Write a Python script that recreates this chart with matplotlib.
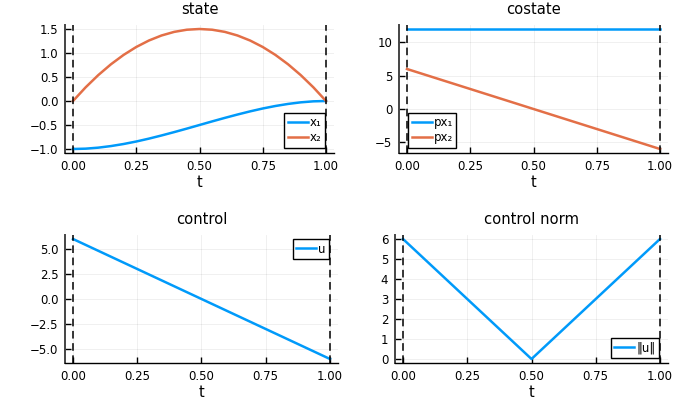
import matplotlib
matplotlib.use("Agg")
import matplotlib.pyplot as plt

# time grid and values
t = [0.0, 0.05, 0.1, 0.15, 0.2, 0.25, 0.3, 0.35, 0.4, 0.45, 0.5,
     0.55, 0.6, 0.65, 0.7, 0.75, 0.8, 0.85, 0.9, 0.95, 1.0]
x1 = [-1.0, -0.993, -0.972, -0.939, -0.896, -0.844, -0.784, -0.718, -0.648, -0.575, -0.5,
      -0.425, -0.352, -0.282, -0.216, -0.156, -0.104, -0.061, -0.028, -0.007, 0.0]
x2 = [0.0, 0.285, 0.54, 0.765, 0.96, 1.125, 1.26, 1.365, 1.44, 1.485, 1.5,
      1.485, 1.44, 1.365, 1.26, 1.125, 0.96, 0.765, 0.54, 0.285, 0.0]
px1 = [12.0] * 21
px2 = [6.0, 5.4, 4.8, 4.2, 3.6, 3.0, 2.4, 1.8, 1.2, 0.6, 0.0,
       -0.6, -1.2, -1.8, -2.4, -3.0, -3.6, -4.2, -4.8, -5.4, -6.0]
u = [6.0, 5.4, 4.8, 4.2, 3.6, 3.0, 2.4, 1.8, 1.2, 0.6, 0.0,
     -0.6, -1.2, -1.8, -2.4, -3.0, -3.6, -4.2, -4.8, -5.4, -6.0]
unorm = [6.0, 5.4, 4.8, 4.2, 3.6, 3.0, 2.4, 1.8, 1.2, 0.6, 0.0,
         0.6, 1.2, 1.8, 2.4, 3.0, 3.6, 4.2, 4.8, 5.4, 6.0]
t0, tf = 0.0, 1.0

blue = "#009AFA"
red = "#E36F47"

W, H = 680, 420
fig = plt.figure(figsize=(6.8, 4.2), dpi=100)

def add_ax(l, r, top, bot):
    return fig.add_axes([l / W, 1 - bot / H, (r - l) / W, (bot - top) / H])

def style(ax, title, ylim, yticks, yfmt):
    ax.set_xlim(-0.03, 1.03)
    ax.set_ylim(*ylim)
    ax.set_xticks([0, 0.25, 0.5, 0.75, 1.0])
    ax.set_xticklabels(["0.00", "0.25", "0.50", "0.75", "1.00"])
    ax.set_yticks(yticks)
    ax.set_yticklabels([yfmt(v).replace("-", "\u2212") for v in yticks])
    ax.grid(True, color="black", alpha=0.07, linewidth=0.6)
    for s in ["top", "right"]:
        ax.spines[s].set_visible(False)
    ax.spines["bottom"].set_linewidth(1.0)
    ax.spines["left"].set_linewidth(1.4)
    ax.spines["left"].set_color("#444444")
    ax.tick_params(direction="in", length=4, width=1, labelsize=8.5)
    ax.tick_params(axis="x", pad=5)
    ax.tick_params(axis="y", pad=5)
    ax.set_title(title, fontsize=10.6, pad=8)
    ax.set_xlabel("t", fontsize=10.5, labelpad=2)
    ax.axvline(t0, color="black", ls=(0, (5, 3)), lw=1.1, zorder=4)
    ax.axvline(tf, color="black", ls=(0, (5, 3)), lw=1.1, zorder=4)

def legend(ax, loc, anchor):
    lg = ax.legend(loc=loc, bbox_to_anchor=(anchor[0] / W, 1 - anchor[1] / H),
                   bbox_transform=fig.transFigure, fontsize=8.5, fancybox=False,
                   edgecolor="black", framealpha=1, handlelength=1.7,
                   handletextpad=0.15, labelspacing=0.2, borderpad=0.3,
                   borderaxespad=0)
    lg.get_frame().set_linewidth(1.0)
    lg.set_zorder(5)

# state
ax = add_ax(65.4, 333.6, 25.4, 152.6)
ax.plot(t, x1, color=blue, lw=1.8, label="x\u2081", zorder=3)
ax.plot(t, x2, color=red, lw=1.8, label="x\u2082", zorder=3)
style(ax, "state", (-1.075, 1.575), [-1.0, -0.5, 0.0, 0.5, 1.0, 1.5], lambda v: f"{v:.1f}")
legend(ax, "lower right", (325, 148))

# costate
ax = add_ax(399.4, 667.6, 25.4, 152.6)
ax.plot(t, px1, color=blue, lw=1.8, label="px\u2081", zorder=3)
ax.plot(t, px2, color=red, lw=1.8, label="px\u2082", zorder=3)
style(ax, "costate", (-6.54, 12.54), [-5, 0, 5, 10], lambda v: f"{v:d}")
legend(ax, "lower left", (408, 148))

# control
ax = add_ax(65.3, 337.7, 235.4, 362.6)
ax.plot(t, u, color=blue, lw=1.8, label="u", zorder=3)
style(ax, "control", (-6.36, 6.36), [-5.0, -2.5, 0.0, 2.5, 5.0], lambda v: f"{v:.1f}")
legend(ax, "upper right", (329, 239))

# control norm
ax = add_ax(395.3, 667.7, 235.4, 362.6)
ax.plot(t, unorm, color=blue, lw=1.8, label="\u2016u\u2016", zorder=3)
style(ax, "control norm", (-0.18, 6.18), [0, 1, 2, 3, 4, 5, 6], lambda v: f"{v:d}")
legend(ax, "lower right", (659, 358))

fig.savefig("out.png", dpi=100)
